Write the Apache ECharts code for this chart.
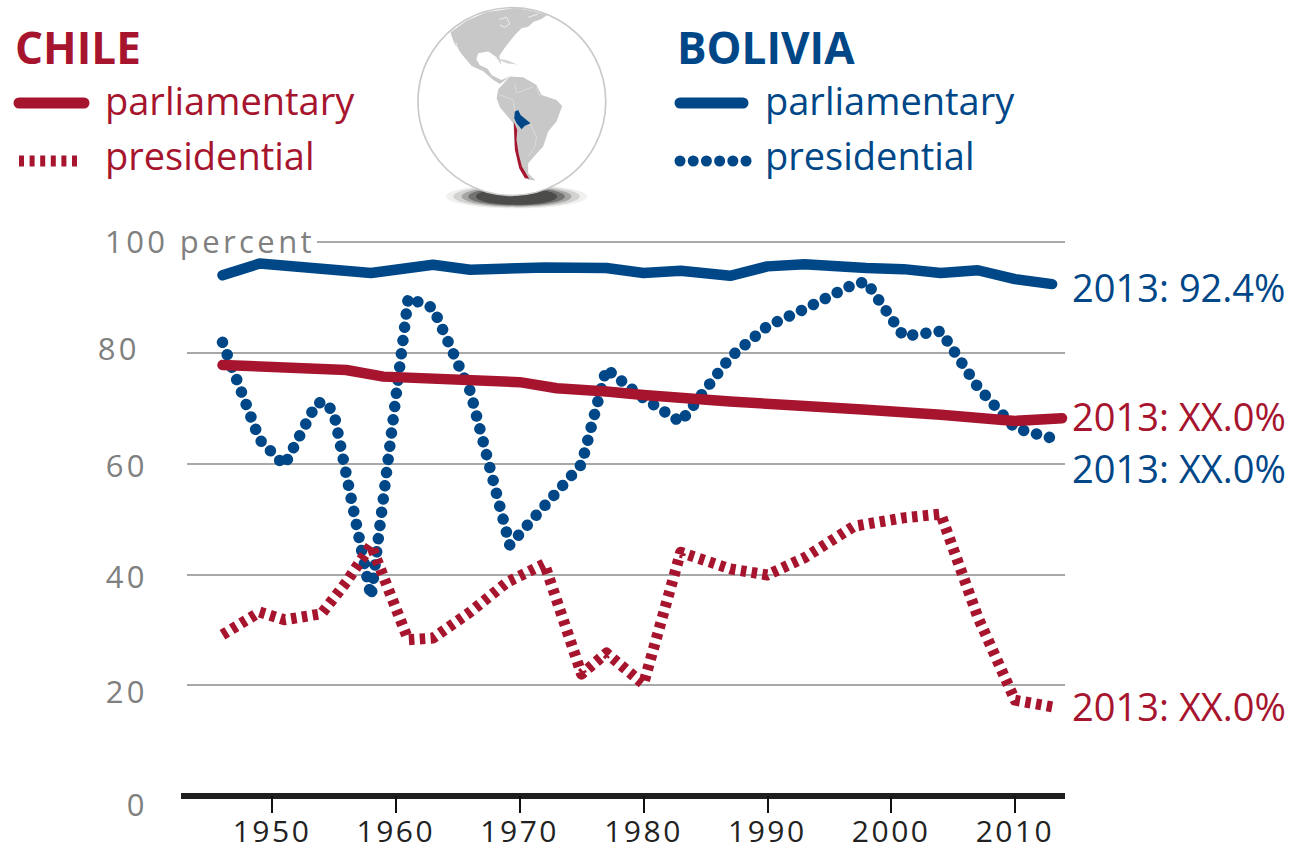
<!DOCTYPE html>
<html>
<head>
<meta charset="utf-8">
<style>
  html, body { margin: 0; padding: 0; background: #fff; }
  #chart { width: 1305px; height: 857px; }
  /* the reference sets its axis numbers with wide tracking */
  #chart text[fill="#808080"] { letter-spacing: 3.4px; }
  #chart text[fill="#222222"] { letter-spacing: 2.5px; }
</style>
<script src="https://cdn.jsdelivr.net/npm/echarts@6/dist/echarts.min.js"></script>
</head>
<body>
<div id="chart"></div>
<script>
  const RED = '#a6142e'
  const BLUE = '#004788'
  const FONT = '"Open Sans", "Noto Sans", sans-serif'

  const xTicks = [1950, 1960, 1970, 1980, 1990, 2000, 2010]

  // 玻利维亚 议会
  const boliviaParlYears = [1946, 1949, 1958, 1963, 1966, 1972, 1977, 1980, 1983, 1987, 1990, 1993, 1998, 2001, 2004, 2007, 2010, 2013]
  const boliviaParlValues = [94.0, 96.1, 94.4, 95.9, 95.0, 95.4, 95.3, 94.4, 94.8, 93.9, 95.6, 96.0, 95.3, 95.1, 94.4, 94.9, 93.3, 92.4]

  // 玻利维亚 总统
  const boliviaPresYears = [1946, 1949, 1951, 1953.6, 1954.3, 1955, 1958, 1961, 1963, 1966, 1969.2, 1975, 1977, 1980, 1983, 1987, 1990, 1993, 1997, 1998, 2001, 2004, 2007, 2010, 2013]
  const boliviaPresValues = [81.9, 64.3, 59.7, 70.9, 71.1, 69.1, 35.9, 89.9, 88.1, 73.1, 45.3, 59.9, 77.1, 71.8, 67.5, 79.2, 84.8, 87.9, 92.4, 92.8, 83.0, 83.9, 73.8, 66.4, 64.6]

  // 智利 议会
  const chileParlYears = [1946, 1956, 1959, 1970, 1973, 1977, 1980, 1987, 1993, 1998, 2004, 2010, 2013.8]
  const chileParlValues = [77.8, 76.9, 75.7, 74.7, 73.6, 73.0, 72.4, 71.2, 70.4, 69.7, 68.8, 67.7, 68.2]

  // 智利 总统
  const chilePresYears = [1946, 1949, 1951, 1954, 1956, 1958, 1961, 1963, 1966, 1969, 1972, 1975, 1977, 1980, 1983, 1987, 1990, 1993, 1997, 2001, 2004, 2007, 2010, 2013]
  const chilePresValues = [29.1, 33.2, 31.8, 32.9, 38.6, 45.3, 28.2, 28.5, 33.2, 38.6, 41.9, 22.0, 25.8, 20.2, 44.0, 41.0, 39.9, 43.0, 48.7, 50.2, 50.9, 32.3, 17.3, 16.1]

  const endLabels = {
    boliviaParl: '2013: 92.4%',
    boliviaPres: '2013: XX.0%',
    chileParl: '2013: XX.0%',
    chilePres: '2013: XX.0%'
  }

  function pairs(years, values) {
    return years.map((y, i) => [y, values[i]])
  }

  function makeSeries(name, data, color, lineStyle, label, offset) {
    return {
      name: name,
      type: 'line',
      data: data,
      showSymbol: false,
      symbol: 'none',
      clip: false,
      silent: true,
      lineStyle: Object.assign({color: color, join: 'round'}, lineStyle),
      endLabel: {
        show: true,
        formatter: label,
        color: color,
        fontFamily: FONT,
        fontSize: 38,
        align: 'left',
        verticalAlign: 'middle',
        distance: 0,
        offset: offset
      }
    }
  }

  const solid = {width: 10.5, cap: 'round'}
  const dots = {width: 11.5, cap: 'round', type: [0.01, 13.3]}
  const dashes = {width: 11, cap: 'butt', type: [5.5, 5.4]}

  function legendBlock(x, title, titleX, color, dashStyle) {
    let items = [
      {type: 'text', x: titleX, y: 47, z: 10, style: {text: title, fill: color, font: 'bold 44px ' + FONT, textVerticalAlign: 'middle'}},
      {type: 'line', z: 10, shape: {x1: x[0], y1: 103, x2: x[1], y2: 103}, style: {stroke: color, lineWidth: 11, lineCap: 'round'}},
      {type: 'text', x: x[2], y: 99.5, z: 10, style: {text: 'parliamentary', fill: color, font: '38px ' + FONT, textVerticalAlign: 'middle'}},
      {type: 'line', z: 10, shape: {x1: x[3], y1: 161, x2: x[4], y2: 161}, style: Object.assign({stroke: color}, dashStyle)},
      {type: 'text', x: x[2], y: 154.5, z: 10, style: {text: 'presidential', fill: color, font: '38px ' + FONT, textVerticalAlign: 'middle'}}
    ]
    return items
  }

  // 地球 (decoration, drawn in 3x zoom coordinates)
  function poly(points, fill) {
    return {type: 'polygon', shape: {points: points}, style: {fill: fill}}
  }
  function wire(points, stroke) {
    return {type: 'polyline', shape: {points: points}, style: {stroke: stroke || '#e4e4e4', lineWidth: 2, fill: 'none'}}
  }
  const globe = {
    type: 'group',
    x: 400,
    y: 0,
    scaleX: 1 / 3,
    scaleY: 1 / 3,
    z: 1,
    children: [
      {type: 'ellipse', shape: {cx: 350, cy: 590, rx: 212, ry: 36}, style: {fill: '#f0f0ef'}},
      {type: 'ellipse', shape: {cx: 350, cy: 590, rx: 190, ry: 33}, style: {fill: '#d2d2d0'}},
      {type: 'ellipse', shape: {cx: 350, cy: 590, rx: 165, ry: 30}, style: {fill: '#a5a5a3'}},
      {type: 'ellipse', shape: {cx: 350, cy: 590, rx: 145, ry: 27}, style: {fill: '#737371'}},
      {type: 'ellipse', shape: {cx: 350, cy: 590, rx: 122, ry: 25}, style: {fill: '#4c4c4a'}},
      {type: 'circle', shape: {cx: 336, cy: 305, r: 282}, style: {fill: '#fff', stroke: '#c9c9c9', lineWidth: 5}},
      poly([[152, 97], [200, 62], [260, 36], [345, 24], [400, 33], [442, 45], [425, 57], [400, 66], [385, 80], [365, 85], [345, 105], [325, 130], [310, 150], [298, 168], [305, 196], [290, 172], [265, 155], [235, 160], [229, 178], [240, 196], [262, 206], [276, 226], [305, 240], [330, 230], [300, 252], [280, 240], [250, 214], [215, 198], [185, 162], [163, 130], [155, 108]], '#c8c8c8'),
      poly([[295, 268], [330, 230], [370, 232], [410, 255], [425, 285], [470, 300], [487, 318], [470, 365], [445, 395], [430, 440], [410, 462], [385, 490], [385, 520], [407, 542], [385, 540], [360, 510], [345, 440], [340, 370], [300, 322], [290, 295]], '#c8c8c8'),
      poly([[285, 174], [320, 180], [352, 194], [320, 190]], '#d6d6d6'),
      wire([[298, 58], [320, 52], [330, 72], [315, 82], [300, 75]], '#fff'),
      wire([[385, 52], [415, 42]], '#fff'),
      wire([[168, 128], [180, 168]], '#fff'),
      wire([[300, 285], [340, 300], [345, 335]]),
      wire([[345, 250], [350, 280], [400, 260]]),
      wire([[390, 370], [410, 410], [405, 440], [385, 470]]),
      wire([[420, 290], [410, 260]]),
      poly([[345, 335], [355, 330], [362, 345], [392, 370], [375, 378], [365, 388], [350, 370], [343, 355]], BLUE),
      poly([[342, 366], [352, 390], [350, 420], [356, 460], [366, 500], [388, 537], [375, 535], [358, 505], [345, 450], [343, 400]], RED)
    ]
  }

  const chart = echarts.init(document.getElementById('chart'), null, {renderer: 'svg'})

  const option = {
    animation: false,
    backgroundColor: '#fff',
    grid: {left: 181, right: 240, top: 242, bottom: 61},
    xAxis: {
      type: 'value',
      min: 1942.65,
      max: 2014.04,
      splitLine: {show: false},
      axisLine: {show: true, onZero: false, lineStyle: {color: '#1e1e1e', width: 6, cap: 'butt'}},
      axisTick: {show: true, length: 17, customValues: xTicks, lineStyle: {color: '#111', width: 2}},
      axisLabel: {
        customValues: xTicks,
        color: '#222222',
        fontFamily: FONT,
        fontSize: 30,
        margin: 19,
        formatter: v => String(v)
      }
    },
    yAxis: {
      type: 'value',
      min: 0,
      max: 100,
      interval: 20,
      axisLine: {show: false},
      axisTick: {show: false},
      splitLine: {lineStyle: {color: '#a8a8a8', width: 2}},
      axisLabel: {
        color: '#808080',
        fontFamily: FONT,
        fontSize: 31,
        margin: 33,
        formatter: v => (v === 100 ? '' : '{v' + v + '|' + v + '}'),
        rich: {
          v80: {color: '#808080', fontFamily: FONT, fontSize: 31, padding: [0, 8, 10, 0]},
          v60: {color: '#808080', fontFamily: FONT, fontSize: 31, padding: [3, 0, 0, 0]},
          v40: {color: '#808080', fontFamily: FONT, fontSize: 31, padding: [4, 0, 0, 0]},
          v20: {color: '#808080', fontFamily: FONT, fontSize: 31, padding: [12, 0, 0, 0]},
          v0: {color: '#808080', fontFamily: FONT, fontSize: 31, padding: [16, 0, 0, 0]}
        }
      }
    },
    series: [
      makeSeries('Bolivia presidential', pairs(boliviaPresYears, boliviaPresValues), BLUE, dots, endLabels.boliviaPres, [20, 30]),
      makeSeries('Chile presidential', pairs(chilePresYears, chilePresValues), RED, dashes, endLabels.chilePres, [20, -1]),
      makeSeries('Bolivia parliamentary', pairs(boliviaParlYears, boliviaParlValues), BLUE, solid, endLabels.boliviaParl, [20, 2.5]),
      makeSeries('Chile parliamentary', pairs(chileParlYears, chileParlValues), RED, solid, endLabels.chileParl, [10, -2])
    ],
    graphic: {
      elements: [
        // gridlines start right of the axis line, the 100 line after its label
        {type: 'rect', z: 5, shape: {x: 179, y: 345, width: 8, height: 345}, style: {fill: '#fff'}},
        {type: 'rect', z: 5, shape: {x: 179, y: 238, width: 138, height: 8}, style: {fill: '#fff'}},
        {type: 'text', x: 105, y: 241, z: 10, style: {text: '100 percent', fill: '#808080', font: '31px ' + FONT, textVerticalAlign: 'middle'}},
        globe
      ]
        .concat(legendBlock([19, 84, 105, 19, 78], 'CHILE', 15, RED, {lineWidth: 11, lineDash: [5, 5.6]}))
        .concat(legendBlock([680, 743, 765, 680, 748], 'BOLIVIA', 677, BLUE, {lineWidth: 11, lineCap: 'round', lineDash: [0.01, 13.2]}))
    }
  }

  chart.setOption(option)
</script>
</body>
</html>
